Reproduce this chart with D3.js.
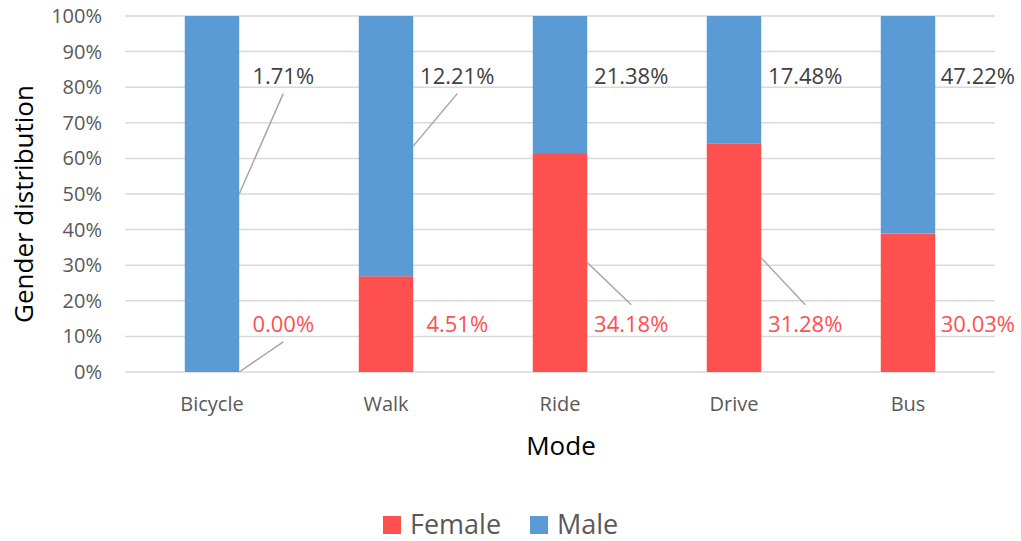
<!DOCTYPE html>
<html>
<head>
<meta charset="utf-8">
<script src="https://cdn.jsdelivr.net/npm/d3@7"></script>
<style>
  body { margin: 0; background: #fff; }
  text { font-family: "Open Sans", "Noto Sans", sans-serif; }
</style>
</head>
<body>
<div id="chart"></div>
<script>
const SVG_WIDTH = 1021;
const SVG_HEIGHT = 541;

// categories and values
var modes = ["Bicycle", "Walk", "Ride", "Drive", "Bus"];
var femaleShare = [0, 0.269, 0.615, 0.641, 0.389];     // share of female within each mode (bar height)
var femaleLabels = ["0.00%", "4.51%", "34.18%", "31.28%", "30.03%"];
var maleLabels = ["1.71%", "12.21%", "21.38%", "17.48%", "47.22%"];
var yTicks = [0, 0.1, 0.2, 0.3, 0.4, 0.5, 0.6, 0.7, 0.8, 0.9, 1];
var seriesNames = ["Female", "Male"];

// which data labels were dragged away and got a leader line
var femaleLeader = [true, false, true, true, false];
var maleLeader = [true, true, false, false, false];

var COLOR_FEMALE = "#FF5050";
var COLOR_MALE = "#5B9BD5";

var margin = {top: 16, right: 26, bottom: 169, left: 125},
    width = SVG_WIDTH - margin.left - margin.right,
    height = SVG_HEIGHT - margin.top - margin.bottom;

var svg = d3.select("#chart")
    .append("svg")
    .attr("width", SVG_WIDTH)
    .attr("height", SVG_HEIGHT);

var plot = svg.append("g")
    .attr("transform", "translate(" + margin.left + "," + margin.top + ")");

var x = d3.scaleBand()
    .domain(modes)
    .range([0, width])
    .paddingInner(0.687)
    .paddingOuter(0.687 / 2);

var y = d3.scaleLinear()
    .domain([0, 1])
    .range([height, 0]);

// gridlines
plot.selectAll(".grid")
    .data(yTicks)
    .enter()
    .append("line")
    .attr("class", "grid")
    .attr("x1", 0)
    .attr("x2", width)
    .attr("y1", function(d) { return y(d); })
    .attr("y2", function(d) { return y(d); })
    .attr("stroke", "#D9D9D9")
    .attr("stroke-width", 1.5);

// y axis labels
var yAxis = d3.axisLeft(y)
    .tickValues(yTicks)
    .tickFormat(d3.format(".0%"))
    .tickSize(0)
    .tickPadding(23);

plot.append("g")
    .call(yAxis)
    .call(function(g) { g.select(".domain").remove(); })
    .selectAll("text")
    .attr("font-family", "'Open Sans', sans-serif")
    .attr("font-size", 20)
    .attr("fill", "#595959");

// x axis labels
var xAxis = d3.axisBottom(x)
    .tickSize(0)
    .tickPadding(25);

plot.append("g")
    .attr("transform", "translate(0," + height + ")")
    .call(xAxis)
    .call(function(g) { g.select(".domain").remove(); })
    .selectAll("text")
    .attr("font-family", "'Open Sans', sans-serif")
    .attr("font-size", 20)
    .attr("fill", "#595959");

// stacked data
var rows = modes.map(function(m, i) {
    return {mode: m, index: i, female: femaleShare[i], male: 1 - femaleShare[i],
            femaleLabel: femaleLabels[i], maleLabel: maleLabels[i]};
});

var stack = d3.stack().keys(["female", "male"]);
var series = stack(rows);

plot.selectAll(".series")
    .data(series)
    .enter()
    .append("g")
    .attr("class", "series")
    .attr("fill", function(d) { return d.key == "female" ? COLOR_FEMALE : COLOR_MALE; })
    .selectAll("rect")
    .data(function(d) { return d; })
    .enter()
    .append("rect")
    .attr("x", function(d) { return x(d.data.mode); })
    .attr("width", x.bandwidth())
    .attr("y", function(d) { return y(d[1]); })
    .attr("height", function(d) { return y(d[0]) - y(d[1]); });

////////// data labels with leader lines //////////

var MALE_LABEL_AT = 0.81;
var FEMALE_LABEL_AT = 0.113;
var LABEL_SIZE = 22;

series.forEach(function(s) {
    var isFemale = s.key == "female";
    s.forEach(function(d) {
        var i = d.data.index;
        var barRight = x(d.data.mode) + x.bandwidth();
        var text = isFemale ? d.data.femaleLabel : d.data.maleLabel;
        var ly = y(isFemale ? FEMALE_LABEL_AT : MALE_LABEL_AT);
        var t = plot.append("text")
            .attr("x", barRight + 44)
            .attr("y", ly)
            .attr("text-anchor", "middle")
            .attr("font-size", LABEL_SIZE)
            .attr("fill", isFemale ? COLOR_FEMALE : "#404040")
            .text(text);
        var bb = t.node().getBBox();
        var maxRight = SVG_WIDTH - margin.left - 6;
        if (bb.x + bb.width > maxRight) {
            t.attr("x", maxRight - bb.width / 2);
            bb = t.node().getBBox();
        }
        var hasLeader = isFemale ? femaleLeader[i] : maleLeader[i];
        if (hasLeader) {
            var midY = y((d[0] + d[1]) / 2);
            var cx = bb.x + bb.width / 2;
            var endY = midY > ly - 8 ? ly + 10 : ly - 27;
            plot.append("line")
                .attr("x1", barRight)
                .attr("y1", midY)
                .attr("x2", cx)
                .attr("y2", endY)
                .attr("stroke", "#A6A6A6")
                .attr("stroke-width", 1.5);
        }
    });
});

////////// axis titles //////////

svg.append("text")
    .attr("transform", "translate(33," + (margin.top + height / 2 + 10) + ") rotate(-90)")
    .attr("text-anchor", "middle")
    .attr("font-size", 26)
    .attr("fill", "#000")
    .text("Gender distribution");

svg.append("text")
    .attr("x", margin.left + width / 2 + 1)
    .attr("y", 455)
    .attr("text-anchor", "middle")
    .attr("font-size", 26)
    .attr("fill", "#000")
    .text("Mode");

////////// legend //////////

var legend = svg.append("g")
    .attr("transform", "translate(383,516)");

var legendX = [0, 147];

var item = legend.selectAll(".legend-item")
    .data(seriesNames)
    .enter()
    .append("g")
    .attr("class", "legend-item")
    .attr("transform", function(d, i) { return "translate(" + legendX[i] + ",0)"; });

item.append("rect")
    .attr("width", 18)
    .attr("height", 18)
    .attr("fill", function(d) { return d == "Female" ? COLOR_FEMALE : COLOR_MALE; });

item.append("text")
    .attr("x", 27)
    .attr("y", 18)
    .attr("font-size", 27)
    .attr("fill", "#595959")
    .text(function(d) { return d; });
</script>
</body>
</html>
